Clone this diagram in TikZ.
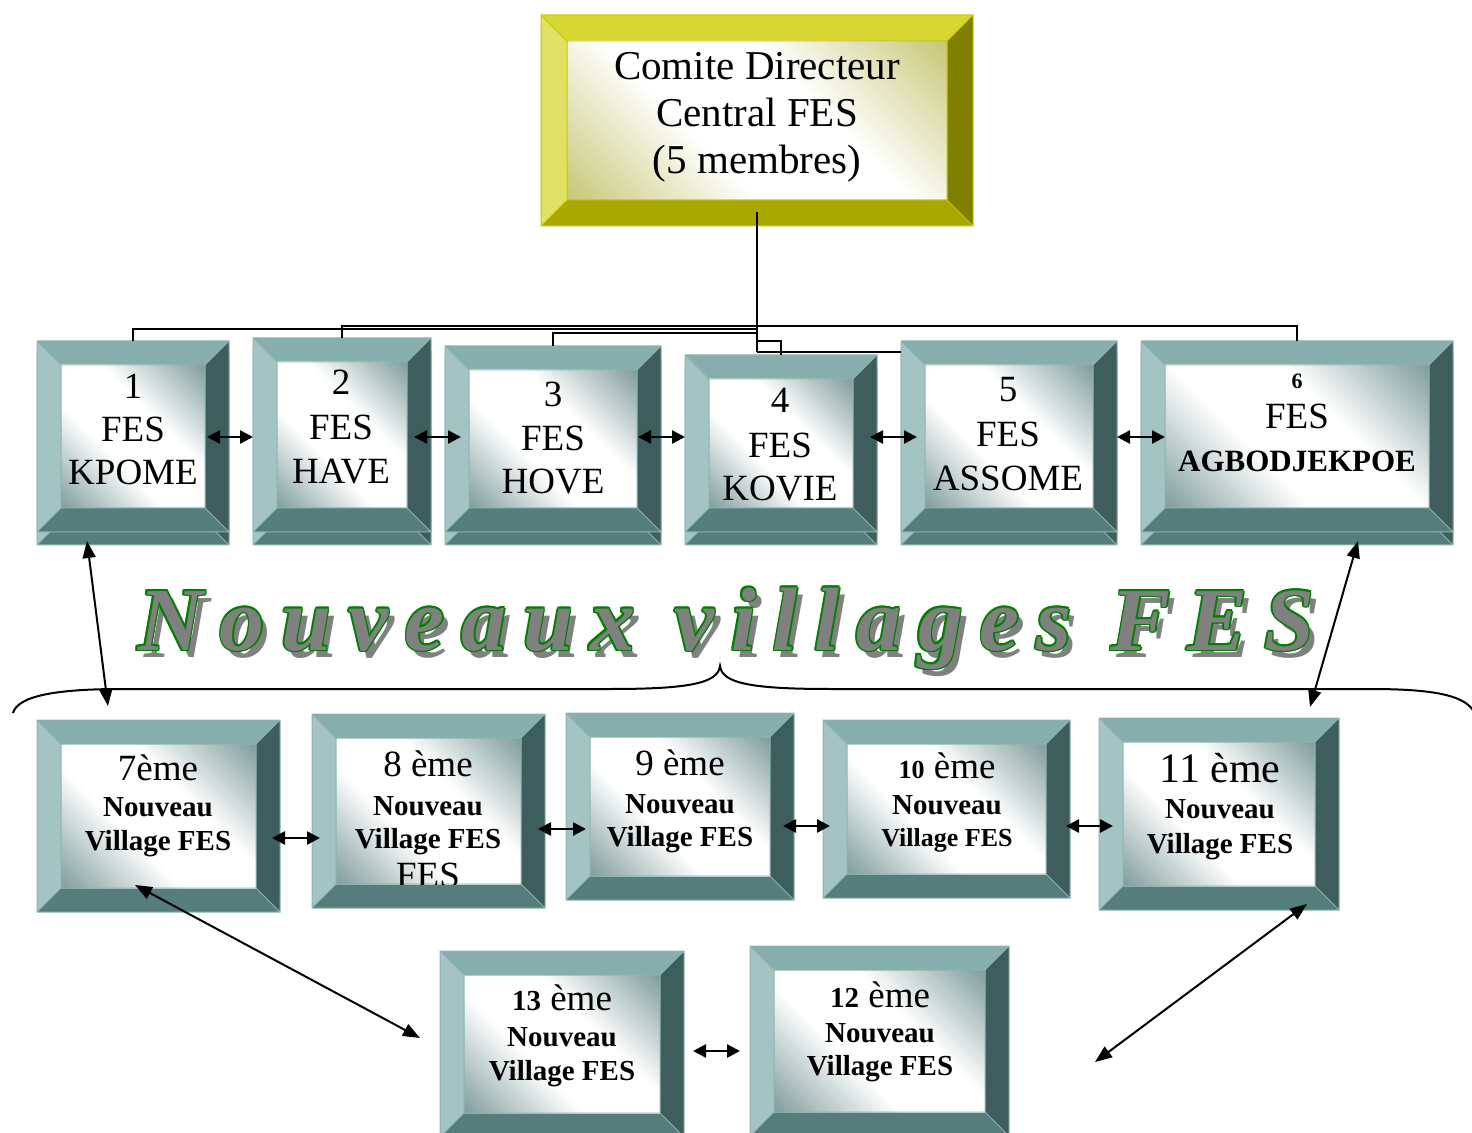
\documentclass[tikz,border=0pt]{standalone}
\usepackage{fontspec}
\setmainfont{Liberation Serif}
\newfontfamily\titlefont[LetterSpace=18.6]{Liberation Serif}
\usetikzlibrary{arrows.meta,fit}

\definecolor{tealtop}{RGB}{133,174,172}
\definecolor{tealleft}{RGB}{163,196,195}
\definecolor{tealright}{RGB}{62,94,93}
\definecolor{tealbot}{RGB}{85,125,123}
\definecolor{tealedge}{RGB}{140,180,178}
\definecolor{tealdark}{RGB}{130,158,158}
\definecolor{yeltop}{RGB}{216,214,50}
\definecolor{yelleft}{RGB}{224,224,100}
\definecolor{yelright}{RGB}{128,128,0}
\definecolor{yelbot}{RGB}{168,168,0}
\definecolor{yeledge}{RGB}{200,200,0}
\definecolor{yeldark}{RGB}{200,200,120}
\definecolor{ttlgreen}{RGB}{0,128,0}
\definecolor{ttlgray}{RGB}{128,128,128}

\pgfdeclarehorizontalshading{tealshade}{100bp}{color(0bp)=(tealdark); color(15bp)=(tealdark); color(40bp)=(white); color(60bp)=(white); color(85bp)=(tealdark); color(100bp)=(tealdark)}
\pgfdeclarehorizontalshading{yelshade}{100bp}{color(0bp)=(yeldark); color(15bp)=(yeldark); color(40bp)=(white); color(60bp)=(white); color(85bp)=(yeldark); color(100bp)=(yeldark)}

\newcommand\fszA{\fontsize{20.5}{24}\selectfont}
\newcommand\fszB{\fontsize{18.5}{22}\selectfont}
\newcommand\fszC{\fontsize{14.5}{17}\selectfont\bfseries}

\newcommand\bevbox[7]{%
  \fill[#6top] (#2,#3) -- (#4,#3) -- (#4-#7,#3+#7) -- (#2+#7,#3+#7) -- cycle;
  \fill[#6left] (#2,#3) -- (#2+#7,#3+#7) -- (#2+#7,#5-#7) -- (#2,#5) -- cycle;
  \fill[#6right] (#4,#3) -- (#4,#5) -- (#4-#7,#5-#7) -- (#4-#7,#3+#7) -- cycle;
  \fill[#6bot] (#2,#5) -- (#2+#7,#5-#7) -- (#4-#7,#5-#7) -- (#4,#5) -- cycle;
  \shade[shading=#6shade, shading angle=45] (#2+#7,#3+#7) rectangle (#4-#7,#5-#7);
  \draw[#6edge, line width=0.5pt] (#2,#3) rectangle (#4,#5) (#2+#7,#3+#7) rectangle (#4-#7,#5-#7)
     (#2,#3) -- (#2+#7,#3+#7) (#4,#3) -- (#4-#7,#3+#7) (#2,#5) -- (#2+#7,#5-#7) (#4,#5) -- (#4-#7,#5-#7);
  \node[fit={(#2,#3) (#4,#5)}, inner sep=0pt, outer sep=0pt] (#1) {};
}

\tikzset{
  lbl/.style={anchor=base, inner sep=0pt, outer sep=0pt},
  conn/.style={line width=1pt, black},
  dbl/.style={line width=1.3pt, {Triangle[length=6.5pt,width=6.5pt]}-{Triangle[length=6.5pt,width=6.5pt]}},
  lng/.style={line width=1pt, {Triangle[length=8.5pt,width=6.5pt]}-{Triangle[length=8.5pt,width=6.5pt]}},
  ttl/.style={anchor=base west, inner sep=0pt, outer sep=0pt, font=\titlefont\fontsize{45}{50}\selectfont\bfseries\itshape}
}

\begin{document}
\begin{tikzpicture}[x=0.5pt, y=-0.5pt]
\useasboundingbox (0,0) rectangle (1472,1133);

% top box
\bevbox{top}{541}{15}{973}{226}{yel}{26}
\node[lbl, font=\fszA] (t0a) at (757,80) {Comite Directeur};
\node[lbl, font=\fszA] (t0b) at (757,127) {Central FES};
\node[lbl, font=\fszA] (t0c) at (757,174) {(5 membres)};

% top row (with shadow copies)
\bevbox{b1s}{37}{354}{229}{545}{teal}{24}
\bevbox{b2s}{253}{351}{431}{545}{teal}{24}
\bevbox{b3s}{445}{359}{661}{545}{teal}{24}
\bevbox{b4s}{685}{368}{877}{545}{teal}{24}
\bevbox{b5s}{901}{354}{1117}{545}{teal}{24}
\bevbox{b6s}{1141}{354}{1453}{545}{teal}{24}
\bevbox{b1}{37}{341}{229}{532}{teal}{24}
\bevbox{b2}{253}{338}{431}{532}{teal}{24}
\bevbox{b3}{445}{346}{661}{532}{teal}{24}
\bevbox{b4}{685}{355}{877}{532}{teal}{24}
\bevbox{b5}{901}{341}{1117}{532}{teal}{24}
\bevbox{b6}{1141}{341}{1453}{532}{teal}{24}

\node[lbl, font=\fszB] (t1a) at (133,399) {1};
\node[lbl, font=\fszB] (t1b) at (133,442) {FES};
\node[lbl, font=\fszB] (t1c) at (133,485) {KPOME};
\node[lbl, font=\fszB] (t2a) at (341,395) {2};
\node[lbl, font=\fszB] (t2b) at (341,440) {FES};
\node[lbl, font=\fszB] (t2c) at (341,484) {HAVE};
\node[lbl, font=\fszB] (t3a) at (553,407) {3};
\node[lbl, font=\fszB] (t3b) at (553,451) {FES};
\node[lbl, font=\fszB] (t3c) at (553,494) {HOVE};
\node[lbl, font=\fszB] (t4a) at (780,413) {4};
\node[lbl, font=\fszB] (t4b) at (780,458) {FES};
\node[lbl, font=\fszB] (t4c) at (780,501) {KOVIE};
\node[lbl, font=\fszB] (t5a) at (1008,402) {5};
\node[lbl, font=\fszB] (t5b) at (1008,447) {FES};
\node[lbl, font=\fszB] (t5c) at (1008,491) {ASSOME};
\node[lbl, font=\fontsize{11}{13}\selectfont\bfseries] (t6a) at (1297,389) {6};
\node[lbl, font=\fszB] (t6b) at (1297,429) {FES};
\node[lbl, font=\fontsize{15.5}{18}\selectfont\bfseries] (t6c) at (1297,472) {AGBODJEKPOE};

% tree connectors
\coordinate (hub) at (757,352);
\coordinate (hA) at (757,329);
\coordinate (hB) at (782,326);
\coordinate (hC) at (757,326);
\coordinate (hD) at (757,333);
\coordinate (hE) at (757,341);
\draw[conn] ([yshift=7pt]top.south) -- (hub);
\draw[conn] (b1.north) |- (hA);
\draw[conn] (b2.north) |- (hB);
\draw[conn] (b6.north) |- (hC);
\draw[conn] (b3.north) |- (hD);
\draw[conn] (b4.north) |- (hE);
\draw[conn] (hub) -- (hub -| b5.west);

% title: shadow, green outline, grey face
\node[ttl, text=ttlgray] (ttlsh) at (144,657) {Nouveaux villages FES};
\foreach \dx/\dy [count=\k] in {-1.6/0,1.6/0,0/-1.6,0/1.6,-1.1/-1.1,1.1/1.1,-1.1/1.1,1.1/-1.1}
  \node[ttl, text=ttlgreen] (ttlo\k) at (138+\dx,650+\dy) {Nouveaux villages FES};
\node[ttl, text=ttlgray] (ttl) at (138,650) {Nouveaux villages FES};

% brace
\draw[line width=1pt] (13,713) .. controls (18,695) and (60,689) .. (122,689) -- (611,689)
  .. controls (690,689) and (718,683) .. (720,666)
  .. controls (722,683) and (750,689) .. (830,689) -- (1371,689)
  .. controls (1440,689) and (1466,697) .. (1474,712);

% bottom row
\bevbox{b7}{37}{720}{280}{912}{teal}{24}
\bevbox{b8}{312}{714}{545}{908}{teal}{24}
\bevbox{b9}{566}{713}{794}{900}{teal}{24}
\bevbox{b10}{823}{720}{1070}{898}{teal}{24}
\bevbox{b11}{1099}{718}{1339}{910}{teal}{24}
\bevbox{b13}{440}{951}{684}{1137}{teal}{24}
\bevbox{b12}{750}{946}{1009}{1136}{teal}{24}

\node[lbl, font=\fszB] (t7a) at (158,780) {7ème};
\node[lbl, font=\fszC] (t7b) at (158,816) {Nouveau};
\node[lbl, font=\fszC] (t7c) at (158,850) {Village FES};
\begin{scope}
\clip (336,738) rectangle (521,884);
\node[lbl, font=\fszB] (t8a) at (428,776) {8 ème};
\node[lbl, font=\fszC] (t8b) at (428,815) {Nouveau};
\node[lbl, font=\fszC] (t8c) at (428,848) {Village FES};
\node[lbl, font=\fszB] (t8d) at (428,887) {FES};
\end{scope}
\node[lbl, font=\fszB] (t9a) at (680,775) {9 ème};
\node[lbl, font=\fszC] (t9b) at (680,813) {Nouveau};
\node[lbl, font=\fszC] (t9c) at (680,846) {Village FES};
\node[lbl, font=\fszB] (t10a) at (947,778) {{\fontsize{13}{15}\selectfont\bfseries 10} ème};
\node[lbl, font=\fszC] (t10b) at (947,814) {Nouveau};
\node[lbl, font=\fontsize{13}{15}\selectfont\bfseries] (t10c) at (947,846) {Village FES};
\node[lbl, font=\fontsize{21}{24}\selectfont] (t11a) at (1220,782) {11 ème};
\node[lbl, font=\fszC] (t11b) at (1220,818) {Nouveau};
\node[lbl, font=\fszC] (t11c) at (1220,853) {Village FES};
\node[lbl, font=\fszB] (t13a) at (562,1010) {{\fszC 13} ème};
\node[lbl, font=\fszC] (t13b) at (562,1046) {Nouveau};
\node[lbl, font=\fszC] (t13c) at (562,1080) {Village FES};
\node[lbl, font=\fszB] (t12a) at (880,1007) {{\fszC 12} ème};
\node[lbl, font=\fszC] (t12b) at (880,1042) {Nouveau};
\node[lbl, font=\fszC] (t12c) at (880,1075) {Village FES};

% short arrows
\coordinate (a12a) at (207,437);  \coordinate (a12b) at (253,437);
\coordinate (a23a) at (414,437);  \coordinate (a23b) at (461,437);
\coordinate (a34a) at (638,437);  \coordinate (a34b) at (685,437);
\coordinate (a45a) at (870,437);  \coordinate (a45b) at (917,437);
\coordinate (a56a) at (1117,437); \coordinate (a56b) at (1165,437);
\coordinate (a78a) at (272,838);  \coordinate (a78b) at (320,838);
\coordinate (a89a) at (538,829);  \coordinate (a89b) at (586,829);
\coordinate (a910a) at (783,826); \coordinate (a910b) at (830,826);
\coordinate (a1011a) at (1066,826); \coordinate (a1011b) at (1113,826);
\coordinate (a1312a) at (693,1051); \coordinate (a1312b) at (740,1051);
\foreach \p in {a12,a23,a34,a45,a56,a78,a89,a910,a1011,a1312}
  \draw[dbl] (\p a) -- (\p b);

% long arrows
\coordinate (l17a) at (87,541);    \coordinate (l17b) at (108,706);
\coordinate (l611a) at (1358,541); \coordinate (l611b) at (1310,707);
\coordinate (l713a) at (135,885);  \coordinate (l713b) at (420,1038);
\coordinate (l11a) at (1307,904);  \coordinate (l11b) at (1095,1062);
\foreach \p in {l17,l611,l713,l11}
  \draw[lng] (\p a) -- (\p b);
\end{tikzpicture}
\end{document}
